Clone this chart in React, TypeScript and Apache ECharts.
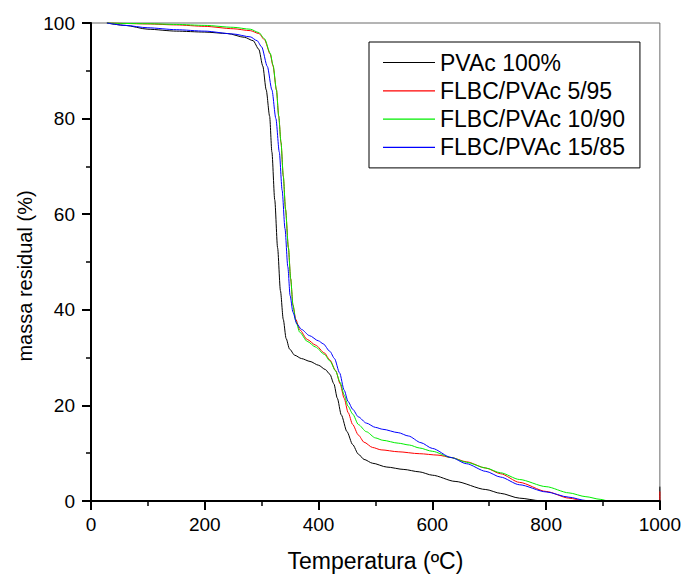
import React, { useEffect, useRef } from "react";
import * as echarts from "echarts";

const seriesNames = ["PVAc 100%", "FLBC/PVAc 5/95", "FLBC/PVAc 10/90", "FLBC/PVAc 15/85"];
const seriesColors = ["#000000", "#ff0000", "#00ee00", "#0000ff"];

const pvac100: number[][] = [
  [28, 100], [60, 99.5], [100, 98.7], [150, 98.3], [200, 98.1], [240, 97.8], [270, 97], [285, 96.3],
  [295, 94.5], [302, 91], [308, 86], [314, 80.5], [318, 73], [323, 63], [328, 53], [333, 44],
  [338, 38], [343, 34], [349, 31.8], [358, 30.5], [370, 29.8], [385, 29.2], [400, 28.4], [412, 27.5],
  [420, 26.5], [427, 24.5], [433, 21.5], [440, 18], [450, 14.5], [460, 11.8], [470, 9.8], [480, 8.7],
  [495, 7.9], [520, 7.1], [550, 6.6], [577, 6.1], [600, 5.4], [640, 4.1], [694, 2.4], [720, 1.6],
  [753, 0.6], [790, 0.05], [1000, 0], [1000, 3],
];

const flbc5: number[][] = [
  [28, 100], [60, 99.9], [100, 99.8], [150, 99.6], [200, 99.3], [250, 98.8], [280, 98.4], [295, 97.8],
  [305, 96.5], [315, 93.5], [320, 91], [326, 86], [330, 80.5], [334, 75], [338, 68], [342, 61],
  [347, 53], [351, 46.5], [355, 41], [360, 38], [367, 35.8], [380, 33.8], [395, 32.6], [410, 31],
  [420, 29.5], [430, 27.3], [438, 24.5], [445, 21.5], [452, 18.5], [460, 16], [470, 13.8], [480, 12.3],
  [495, 11.2], [510, 10.7], [540, 10.3], [577, 9.9], [610, 9.6], [633, 9.1], [660, 8.2], [694, 6.9],
  [720, 5.7], [753, 3.9], [800, 2.0], [840, 0.6], [868, 0], [1000, 0], [1000, 2],
];

const flbc10: number[][] = [
  [28, 100], [60, 99.9], [100, 99.85], [150, 99.7], [200, 99.5], [250, 99.1], [280, 98.7], [295, 98],
  [305, 96.7], [315, 93.7], [320, 91.2], [326, 86], [330, 80.5], [334, 75], [338, 68], [342, 61],
  [347, 53], [351, 46.5], [355, 41], [360, 37.6], [367, 35.3], [380, 33.4], [395, 32.2], [410, 30.7],
  [420, 29.3], [430, 27.2], [438, 24.8], [445, 22.2], [452, 19.8], [460, 18.2], [470, 16], [484, 14.5],
  [500, 13.2], [513, 12.7], [540, 12.1], [560, 11.7], [577, 11.1], [600, 10.4], [633, 9.1], [660, 8.1],
  [694, 6.9], [720, 5.9], [753, 4.5], [800, 3.0], [840, 1.7], [870, 0.9], [895, 0.35], [910, 0], [1000, 0],
];

const flbc15: number[][] = [
  [28, 100], [60, 99.5], [100, 99], [150, 98.6], [200, 98.3], [250, 97.7], [280, 97.1], [292, 96.3],
  [300, 95], [310, 90.9], [318, 86], [325, 80], [331, 73], [336, 65], [341, 57], [346, 49],
  [350, 43], [355, 39.5], [362, 37], [370, 35.9], [384, 34.6], [400, 33.5], [408, 32.9], [420, 31.3],
  [428, 29.8], [437, 26.8], [445, 23.2], [452, 20.8], [460, 19.2], [470, 17.6], [484, 16.3], [500, 15.4],
  [513, 15], [540, 14.3], [558, 13.6], [580, 12.2], [600, 11], [633, 9.1], [660, 7.8], [694, 6.2],
  [720, 5.0], [753, 3.4], [800, 1.9], [840, 0.8], [870, 0.1], [882, 0], [1000, 0],
];

const xTicks = { min: 0, max: 1000, interval: 200 };
const yTicks = { min: 0, max: 100, interval: 20 };

const FONT = "'Liberation Sans', Arial, sans-serif";

export default function App() {
  const ref = useRef<HTMLDivElement>(null);

  useEffect(() => {
    if (!ref.current) return;
    const chart = echarts.init(ref.current, undefined, { renderer: "svg" });
    const allData = [pvac100, flbc5, flbc10, flbc15];
    const axisCommon = {
      type: "value" as const,
      z: 3,
      axisLine: { show: true, lineStyle: { color: "#000", width: 2 } },
      axisTick: { show: true, inside: false, length: 9, lineStyle: { color: "#000", width: 2 } },
      minorTick: { show: true, splitNumber: 2, length: 5, lineStyle: { color: "#000", width: 1.5 } },
      splitLine: { show: false },
      minorSplitLine: { show: false },
    };
    chart.setOption({
      animation: false,
      backgroundColor: "#fff",
      grid: {
        left: 91,
        right: 23,
        top: 23,
        bottom: 74,
        show: true,
        borderColor: "#6b6b6b",
        borderWidth: 1,
        backgroundColor: "transparent",
      },
      legend: {
        show: true,
        orient: "vertical",
        left: 369,
        top: 42,
        padding: [9, 15, 9, 14],
        itemGap: 5.3,
        itemWidth: 52,
        itemHeight: 1.2,
        icon: "rect",
        borderColor: "#000",
        borderWidth: 1,
        backgroundColor: "#fff",
        textStyle: { fontSize: 23, lineHeight: 23, color: "#000", fontFamily: FONT },
        data: seriesNames,
      },
      xAxis: {
        ...axisCommon,
        min: xTicks.min,
        max: xTicks.max,
        interval: xTicks.interval,
        axisLabel: {
          fontSize: 19,
          color: "#000",
          fontFamily: FONT,
          margin: 14,
          formatter: (v: number) => String(v),
        },
        name: "Temperatura (ºC)",
        nameLocation: "middle",
        nameGap: 48,
        nameTextStyle: { fontSize: 23, color: "#000", fontFamily: FONT },
      },
      yAxis: {
        ...axisCommon,
        min: yTicks.min,
        max: yTicks.max,
        interval: yTicks.interval,
        axisLabel: {
          fontSize: 19,
          color: "#000",
          fontFamily: FONT,
          margin: 16,
          formatter: (v: number) => String(v),
        },
      },
      graphic: [
        {
          type: "text",
          x: 25,
          y: 276,
          rotation: Math.PI / 2,
          style: {
            text: "massa residual (%)",
            fontSize: 20,
            fontFamily: FONT,
            fill: "#000",
            textAlign: "center",
            textVerticalAlign: "middle",
          },
        },
      ],
      series: seriesNames.map((name, i) => ({
        name,
        type: "line",
        data: allData[i],
        symbol: "none",
        showSymbol: false,
        smooth: 0.25,
        smoothMonotone: "x",
        clip: false,
        z: 2,
        lineStyle: { color: seriesColors[i], width: 1 },
        itemStyle: { color: seriesColors[i] },
      })),
    });
    return () => chart.dispose();
  }, []);

  return (
    <div
      ref={ref}
      style={{ position: "fixed", left: 0, top: 0, width: 684, height: 577 }}
    />
  );
}
